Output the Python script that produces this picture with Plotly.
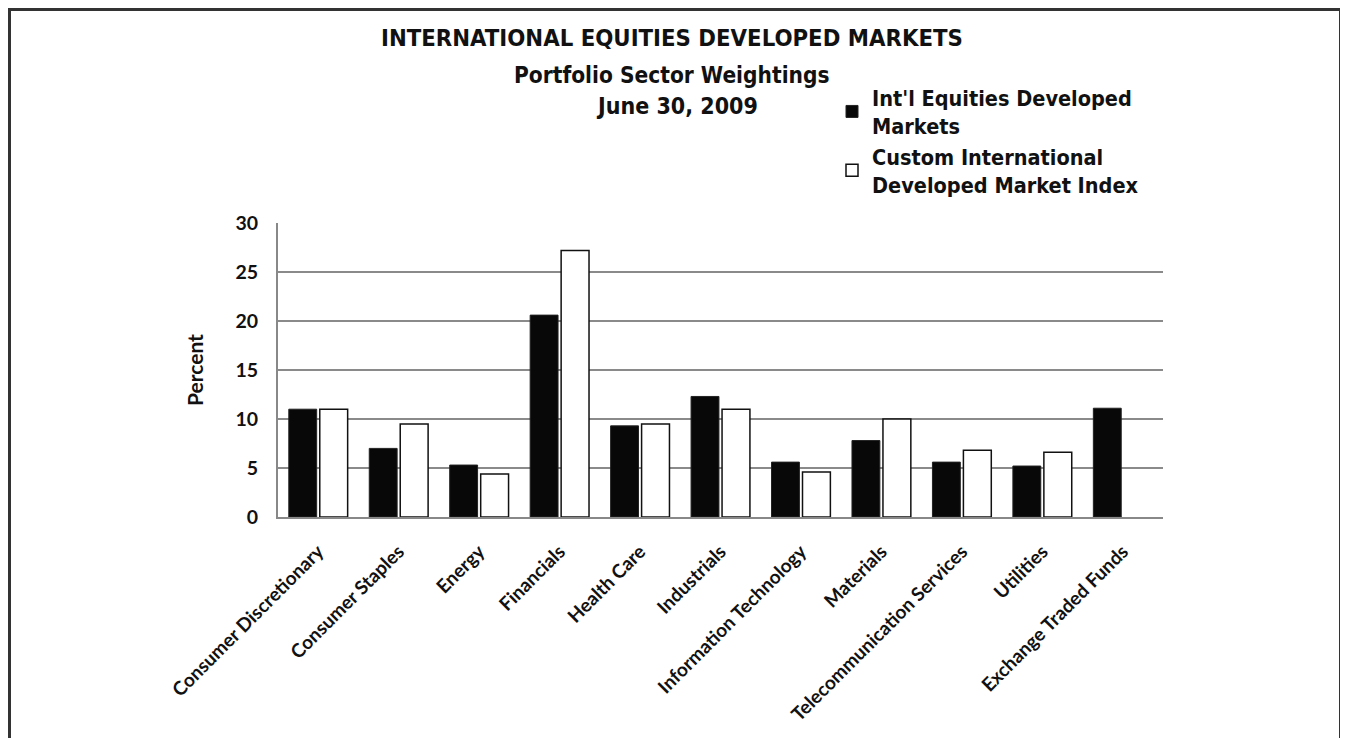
import plotly.graph_objects as go

categories = ["Consumer Discretionary", "Consumer Staples", "Energy", "Financials",
              "Health Care", "Industrials", "Information Technology", "Materials",
              "Telecommunication Services", "Utilities", "Exchange Traded Funds"]
portfolio = [11.0, 7.0, 5.3, 20.6, 9.3, 12.3, 5.6, 7.8, 5.6, 5.2, 11.1]
index_vals = [11.0, 9.5, 4.4, 27.2, 9.5, 11.0, 4.6, 10.0, 6.8, 6.6, None]
yticks = [0, 5, 10, 15, 20, 25, 30]

title_font = "DejaVu Sans Condensed, Liberation Sans Narrow, sans-serif"
tick_font = "Lato, Open Sans, sans-serif"

OFF = 8  # page body margin
W, H = 1340, 730
L, T = 278 - OFF, 223 - OFF
pw, ph = 885, 294
R, B = W - L - pw, H - T - ph

def px(x):
    return (x - OFF - L) / pw

def py(y):
    return (T + ph - (y - OFF)) / ph

fig = go.Figure()
fig.add_trace(go.Bar(
    x=categories, y=portfolio,
    name="Int'l Equities Developed<br>Markets",
    marker=dict(color="#080808", line=dict(color="#222222", width=1)),
))
fig.add_trace(go.Bar(
    x=categories, y=index_vals,
    name="Custom International<br>Developed Market Index",
    marker=dict(color="#ffffff", line=dict(color="#111111", width=1.5)),
))

fig.update_layout(
    width=W, height=H,
    margin=dict(l=L, r=R, t=T, b=B, autoexpand=False),
    paper_bgcolor="white", plot_bgcolor="white",
    barmode="group", bargap=0.23, bargroupgap=0.1,
    font=dict(family=tick_font, color="#111111"),
    legend=dict(
        x=px(832), y=py(77), xanchor="left", yanchor="top",
        font=dict(family=title_font, size=21.5, color="#111111", weight="bold"),
        tracegroupgap=0, itemwidth=30, bgcolor="rgba(0,0,0,0)",
    ),
    xaxis=dict(
        tickangle=-45, tickfont=dict(family=tick_font, size=19, weight="bold", color="#111"),
        showline=True, linecolor="#888888", linewidth=2, ticks="",
        showgrid=False, ticklabelstandoff=14,
    ),
    yaxis=dict(
        range=[0, 30], tickvals=yticks,
        tickfont=dict(family=tick_font, size=19.5, weight="bold", color="#111"),
        showgrid=True, gridcolor="#8a8a8a", gridwidth=1.5,
        showline=True, linecolor="#888888", linewidth=2, ticks="",
        zeroline=False, ticklabelstandoff=14,
        title=dict(text="Percent", font=dict(family=tick_font, size=21, weight="bold", color="#111"), standoff=26),
    ),
)

annots = [
    ("INTERNATIONAL EQUITIES DEVELOPED MARKETS", 672, 38, 23.7),
    ("Portfolio Sector Weightings", 672, 75, 22.5),
    ("June 30, 2009", 677, 106, 23),
]
for text, x, y, s in annots:
    fig.add_annotation(
        text=text, xref="paper", yref="paper", x=px(x), y=py(y),
        xanchor="center", yanchor="middle", showarrow=False,
        font=dict(family=title_font, size=s, weight="bold", color="#111111"),
    )

fig.add_shape(
    type="rect", xref="paper", yref="paper",
    x0=px(9.5), x1=px(1340.5), y0=py(9.5), y1=py(760),
    line=dict(color="#333333", width=3), fillcolor="rgba(0,0,0,0)", layer="above",
)

fig.write_html("out.html")
